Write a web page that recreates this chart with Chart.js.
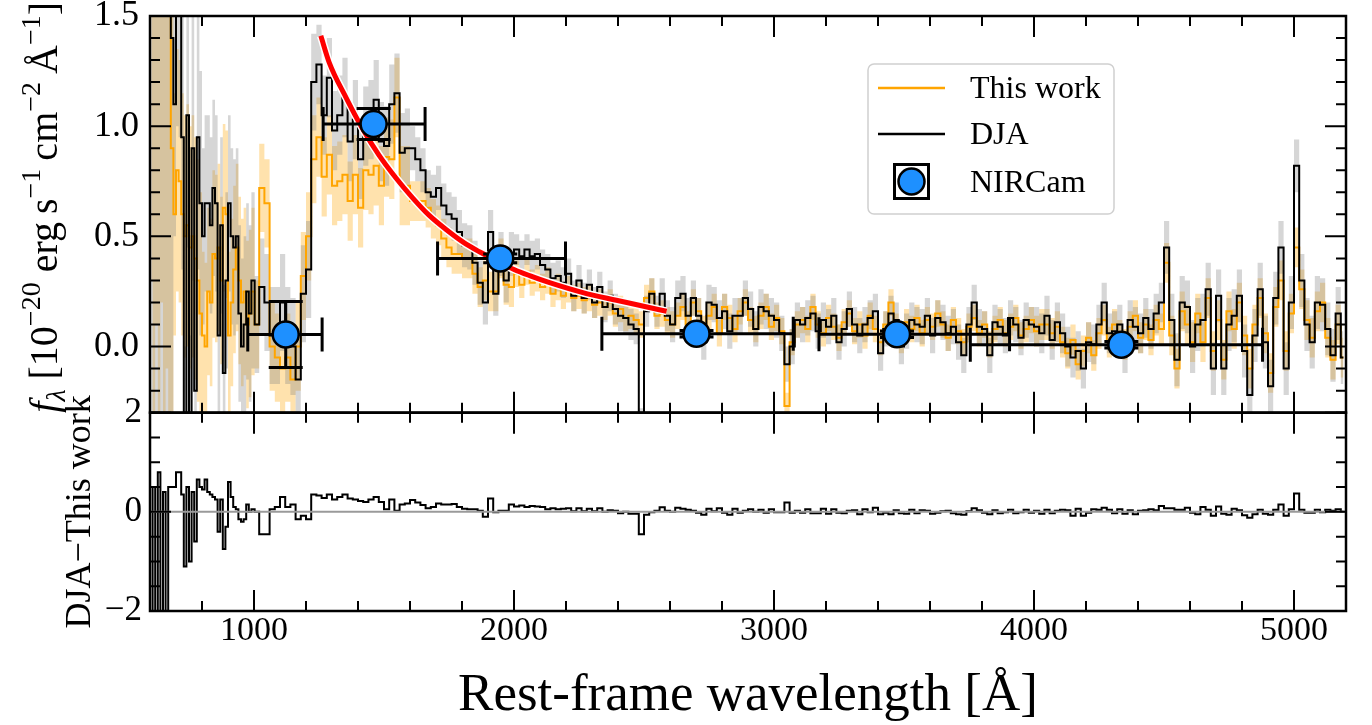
<!DOCTYPE html>
<html>
<head>
<meta charset="utf-8">
<script src="https://cdn.jsdelivr.net/npm/chart.js@4.4.1/dist/chart.umd.min.js"></script>
<style>
  html, body { margin: 0; padding: 0; background: #fff; }
</style>
</head>
<body>
<canvas id="spec" width="1372" height="725"></canvas>
<script>
// rest-frame bin centres [Angstrom]
var wave = [
  605, 615, 625, 635, 645, 655, 665, 675, 685, 695,
  705, 715, 725, 735, 745, 755, 765, 775, 785, 795,
  805, 815, 825, 835, 845, 855, 865, 875, 885, 895,
  905, 915, 925, 935, 945, 955, 965, 975, 985, 995,
  1010, 1030, 1050, 1070, 1090, 1110, 1130, 1150, 1170, 1190,
  1210, 1230, 1250, 1270, 1290, 1310, 1330, 1350, 1370, 1390,
  1410, 1430, 1450, 1470, 1490, 1510, 1530, 1550, 1570, 1590,
  1610, 1630, 1650, 1670, 1690, 1710, 1730, 1750, 1770, 1790,
  1810, 1830, 1850, 1870, 1890, 1910, 1930, 1950, 1970, 1990,
  2010, 2030, 2050, 2070, 2090, 2110, 2130, 2150, 2170, 2190,
  2210, 2230, 2250, 2270, 2290, 2310, 2330, 2350, 2370, 2390,
  2410, 2430, 2450, 2470, 2490, 2510, 2530, 2550, 2570, 2590,
  2610, 2630, 2650, 2670, 2690, 2710, 2730, 2750, 2770, 2790,
  2810, 2830, 2850, 2870, 2890, 2910, 2930, 2950, 2970, 2990,
  3010, 3030, 3050, 3070, 3090, 3110, 3130, 3150, 3170, 3190,
  3210, 3230, 3250, 3270, 3290, 3310, 3330, 3350, 3370, 3390,
  3410, 3430, 3450, 3470, 3490, 3510, 3530, 3550, 3570, 3590,
  3610, 3630, 3650, 3670, 3690, 3710, 3730, 3750, 3770, 3790,
  3810, 3830, 3850, 3870, 3890, 3910, 3930, 3950, 3970, 3990,
  4010, 4030, 4050, 4070, 4090, 4110, 4130, 4150, 4170, 4190,
  4210, 4230, 4250, 4270, 4290, 4310, 4330, 4350, 4370, 4390,
  4410, 4430, 4450, 4470, 4490, 4510, 4530, 4550, 4570, 4590,
  4610, 4630, 4650, 4670, 4690, 4710, 4730, 4750, 4770, 4790,
  4810, 4830, 4850, 4870, 4890, 4910, 4930, 4950, 4970, 4990,
  5010, 5030, 5050, 5070, 5090, 5110, 5130, 5150, 5170, 5190
];

// f_lambda, 1e-20 erg/s/cm2/A
var thisWork = [
  4.3, 1.9, 4.1, 2.2, 4.2, 1.8, 3.9, 1.6, 0.9, 0.6,
  0.8, 0.75, 0.6, 0.5, 0.55, 0.45, 0.5, 0.4, 0.3, 0.15,
  0.05, 0.0, 0.25, 0.2, 0.42, 0.4, 0.45, 0.3, 0.63, 0.6,
  0.05, 0.2, 0.35, 0.45, 0.3, 0.2, 0.25, 0.1, 0.15, 0.25,
  0.1, 0.72, 0.65, 0.0, -0.05, -0.1, -0.05, -0.15, 0.0, 0.32,
  0.5, 0.85, 0.95, 0.77, 0.87, 0.73, 0.75, 0.78, 0.66, 0.78,
  0.63, 0.8, 0.78, 0.82, 0.73, 0.86, 0.85, 1.13, 0.73, 0.73,
  0.66, 0.66, 0.66, 0.63, 0.58, 0.55, 0.49, 0.45, 0.42, 0.42,
  0.4, 0.4, 0.33, 0.27, 0.3, 0.25, 0.25, 0.4, 0.28, 0.27,
  0.33, 0.28, 0.34, 0.29, 0.31, 0.27, 0.3, 0.24, 0.27, 0.23,
  0.26, 0.22, 0.23, 0.21, 0.22, 0.19, 0.2, 0.18, 0.2, 0.15,
  0.17, 0.13, 0.14, 0.12, 0.1, 0.22, 0.25, 0.14, 0.15, 0.12,
  0.1, 0.14, 0.18, 0.1, 0.2, 0.16, 0.08, 0.14, 0.18, 0.06,
  0.18, 0.13, 0.08, 0.16, 0.2, 0.12, 0.08, 0.14, 0.18, 0.09,
  0.13, 0.07, -0.27, 0.02, 0.1, 0.12, 0.08, 0.18, 0.1, 0.06,
  0.13, 0.09, 0.04, 0.11, 0.15, 0.07, 0.1, 0.05, 0.14, 0.08,
  0.02, 0.1, 0.2, 0.09, 0.03, 0.11, 0.08, 0.13, 0.06, 0.12,
  0.09, 0.15, 0.1, 0.04, 0.12, 0.07, 0.02, 0.09, 0.13, 0.06,
  0.1, 0.01, 0.08, 0.12, 0.06, 0.09, 0.13, 0.05, 0.08, 0.12,
  0.07, 0.1, 0.1, 0.06, 0.09, 0.02, -0.03, 0.03, -0.08, -0.02,
  0.04, -0.04, 0.06, 0.12, 0.02, 0.1, 0.05, 0.01, 0.09, 0.14,
  0.04, 0.1, 0.03, 0.12, 0.08, 0.38, 0.05, -0.1, 0.16, 0.1,
  0.02, 0.15, 0.02, 0.22, -0.02, 0.12, -0.06, 0.16, 0.08, 0.2,
  0.05, -0.1, 0.1, 0.22, 0.06, -0.12, 0.18, 0.3, -0.02, 0.15,
  0.45, 0.26, 0.12, 0.04, 0.16, 0.2, 0.04, -0.06, 0.1, -0.05
];

var dja = [
  1.7, 2.4, 1.7, 3.0, 1.7, 2.2, 1.6, 2.1, 1.4, 1.1,
  1.6, 1.55, 0.95, -0.6, 1.05, -0.55, 0.9, -0.2, 0.95, 0.65,
  0.5, 0.65, 0.65, 0.55, 0.72, 0.65, 0.05, 0.55, -0.12, 0.3,
  0.65, 0.5, 0.45, 0.5, 0.15, 0.0, 0.1, 0.25, 0.15, 0.3,
  0.1, 0.27, 0.2, 0.05, 0.05, 0.2, 0.05, 0.0, -0.15, 0.24,
  0.35, 1.2, 1.28, 1.05, 1.22, 0.98, 1.05, 1.13, 0.93, 1.03,
  0.85, 1.0, 1.03, 1.12, 0.93, 0.91, 1.1, 1.15, 0.88, 0.9,
  0.9, 0.85, 0.8, 0.7, 0.68, 0.72, 0.64, 0.6, 0.58, 0.52,
  0.46, 0.45, 0.38, 0.29, 0.2, 0.52, 0.24, 0.42, 0.3, 0.42,
  0.44, 0.41, 0.44, 0.41, 0.42, 0.37, 0.35, 0.31, 0.32, 0.29,
  0.33, 0.23, 0.3, 0.22, 0.28, 0.2, 0.27, 0.18, 0.23, 0.17,
  0.14, 0.13, 0.1, 0.08, -0.35, 0.16, 0.24, 0.16, 0.24, 0.14,
  0.1, 0.22, 0.24, 0.14, 0.22, 0.14, 0.02, 0.2, 0.19, 0.13,
  0.16, 0.07, 0.14, 0.14, 0.22, 0.17, 0.08, 0.18, 0.16, 0.14,
  0.12, 0.06, -0.08, 0.0, 0.12, 0.1, 0.13, 0.15, 0.07, 0.12,
  0.09, 0.14, 0.02, 0.08, 0.17, 0.1, 0.05, 0.1, 0.13, 0.16,
  -0.03, 0.08, 0.15, 0.12, 0.0, 0.07, 0.12, 0.1, 0.09, 0.14,
  0.05, 0.13, 0.11, 0.06, 0.09, 0.02, -0.04, 0.1, 0.2, 0.09,
  0.08, -0.04, 0.11, 0.09, 0.05, 0.13, 0.1, 0.04, 0.12, 0.1,
  0.09, 0.06, 0.14, 0.03, 0.11, 0.06, 0.0, -0.05, -0.02, -0.1,
  0.02, 0.01, 0.1, 0.2, 0.06, 0.07, 0.1, -0.03, 0.12, 0.09,
  0.06, 0.13, 0.08, 0.15, 0.2, 0.45, 0.12, -0.06, 0.2, 0.18,
  0.0, 0.1, 0.12, 0.26, -0.1, 0.23, -0.1, 0.1, 0.14, 0.23,
  -0.02, -0.22, 0.05, 0.26, 0.02, -0.18, 0.22, 0.45, -0.1, 0.2,
  0.82, 0.3, 0.1, 0.02, 0.2, 0.19, 0.08, -0.04, 0.15, -0.05
];

// 1-sigma errors, per wavelength range
var errEdges = [600, 690, 800, 1000, 1240, 1600, 2000, 2600, 4000, 4500, 5200];
var thisWorkErr = [4.0, 0.55, 0.38, 0.2, 0.18, 0.09, 0.06, 0.06, 0.07, 0.09];
var djaErr = [3.5, 0.6, 0.4, 0.22, 0.18, 0.1, 0.07, 0.08, 0.09, 0.12];

// NIRCam photometry
var photWave = [1122, 1460, 1947, 2702, 3473, 4336];
var photFlux = [0.055, 1.01, 0.40, 0.058, 0.056, 0.008];
var photWaveLo = [976, 1266, 1706, 2338, 3173, 3755];
var photWaveHi = [1262, 1658, 2198, 3074, 3906, 4879];
var photFluxErr = [0.15, 0.07, 0.02, 0.015, 0.015, 0.015];

// UV slope fit (red curve)
var fitWave = [1257, 1289, 1354, 1417, 1480, 1546, 1610, 1674, 1740, 1803, 1867, 1931, 2000, 2060, 2137, 2265, 2394, 2490, 2587];
var fitFlux = [1.41, 1.29, 1.13, 0.99, 0.87, 0.765, 0.675, 0.595, 0.53, 0.475, 0.43, 0.39, 0.35, 0.322, 0.29, 0.245, 0.21, 0.185, 0.16];

var FLUX_MIN = -0.3, FLUX_MAX = 1.5;
var ORANGE = '#FFA500';

Chart.defaults.font.family = "'Liberation Serif', 'Times New Roman', serif";
Chart.defaults.color = '#000';

function errAt(list, w) {
  for (var k = 0; k < errEdges.length - 1; k++) {
    if (w < errEdges[k + 1]) return list[k];
  }
  return list[list.length - 1];
}
function pts(vals) {
  return wave.map(function (w, i) { return {x: w, y: vals[i]}; });
}
function band(vals, errs, sign) {
  return wave.map(function (w, i) {
    return {x: w, y: Math.max(vals[i] + sign * errAt(errs, w), FLUX_MIN)};
  });
}
var resid = wave.map(function (w, i) { return {x: w, y: dja[i] - thisWork[i]}; });

function drawErrorBars(chart) {
  var ctx = chart.ctx, xs = chart.scales.x, ys = chart.scales.y, cap = 17;
  ctx.save();
  ctx.strokeStyle = '#000';
  ctx.lineWidth = 3;
  photWave.forEach(function (w, i) {
    var px = xs.getPixelForValue(w), py = ys.getPixelForValue(photFlux[i]);
    var x0 = xs.getPixelForValue(photWaveLo[i]), x1 = xs.getPixelForValue(photWaveHi[i]);
    var y0 = ys.getPixelForValue(photFlux[i] - photFluxErr[i]);
    var y1 = ys.getPixelForValue(photFlux[i] + photFluxErr[i]);
    ctx.beginPath();
    ctx.moveTo(x0, py); ctx.lineTo(x1, py);
    ctx.moveTo(px, y0); ctx.lineTo(px, y1);
    ctx.moveTo(x0, py - cap); ctx.lineTo(x0, py + cap);
    ctx.moveTo(x1, py - cap); ctx.lineTo(x1, py + cap);
    ctx.moveTo(px - cap, y0); ctx.lineTo(px + cap, y0);
    ctx.moveTo(px - cap, y1); ctx.lineTo(px + cap, y1);
    ctx.stroke();
  });
  ctx.restore();
}

function drawFrames(chart) {
  var ctx = chart.ctx, area = chart.chartArea, xs = chart.scales.x;
  ctx.save();
  ctx.strokeStyle = '#000';
  ['y', 'y2'].forEach(function (id) {
    var ys = chart.scales[id];
    ctx.lineWidth = 2;
    ctx.beginPath();
    xs.ticks.forEach(function (t) {
      var px = xs.getPixelForValue(t.value), len = t.label ? 21 : 10;
      ctx.moveTo(px, ys.top); ctx.lineTo(px, ys.top + len);
      ctx.moveTo(px, ys.bottom); ctx.lineTo(px, ys.bottom - len);
    });
    ys.ticks.forEach(function (t) {
      var py = ys.getPixelForValue(t.value), len = t.label ? 21 : 10;
      ctx.moveTo(area.left, py); ctx.lineTo(area.left + len, py);
      ctx.moveTo(area.right, py); ctx.lineTo(area.right - len, py);
    });
    ctx.stroke();
    ctx.lineWidth = 2.5;
    ctx.strokeRect(area.left, ys.top, area.right - area.left, ys.bottom - ys.top);
  });
  ctx.restore();
}

// rotated label built from [text, size, italic, shift] pieces
function drawRotated(ctx, pieces, bx, cy) {
  var total = 0;
  pieces.forEach(function (p) {
    ctx.font = (p[2] ? 'italic ' : '') + p[1] + "px 'Liberation Serif'";
    p.w = ctx.measureText(p[0]).width;
    total += p.w;
  });
  ctx.save();
  ctx.translate(bx, cy);
  ctx.rotate(-Math.PI / 2);
  ctx.textBaseline = 'alphabetic';
  ctx.textAlign = 'left';
  var x = -total / 2;
  pieces.forEach(function (p) {
    ctx.font = (p[2] ? 'italic ' : '') + p[1] + "px 'Liberation Serif'";
    ctx.fillText(p[0], x, p[3]);
    x += p.w;
  });
  ctx.restore();
}

function drawTitles(chart) {
  var ctx = chart.ctx, area = chart.chartArea;
  var yt = chart.scales.y, yb = chart.scales.y2;
  ctx.save();
  ctx.fillStyle = '#000';
  ctx.font = "53px 'Liberation Serif'";
  ctx.textAlign = 'center';
  ctx.textBaseline = 'alphabetic';
  ctx.fillText('Rest-frame wavelength [\u00C5]', (area.left + area.right) / 2, 710);
  var M = 40, S = 28;
  drawRotated(ctx, [
    ['f', M, true, 0], ['\u03BB', S, true, 8], [' [', M, false, 0], ['10', M, false, 0],
    ['\u221220', S, false, -17], [' erg', M, false, 0], ['\u2009s', M, false, 0],
    ['\u22121', S, false, -17], ['\u2009cm', M, false, 0], ['\u22122', S, false, -17],
    ['\u2009\u00C5', M, false, 0], ['\u22121', S, false, -17], [']', M, false, 0]
  ], 57, (yt.top + yt.bottom) / 2 - 7);
  drawRotated(ctx, [['DJA\u2212This work', 36, false, 0]], 90, (yb.top + yb.bottom) / 2);
  ctx.restore();
}

function drawLegend(chart) {
  var ctx = chart.ctx, ds = chart.data.datasets;
  ctx.save();
  ctx.beginPath();
  ctx.roundRect(868, 64, 246, 150, 6);
  ctx.fillStyle = 'rgba(255,255,255,0.8)';
  ctx.fill();
  ctx.lineWidth = 1.5;
  ctx.strokeStyle = '#d0d0d0';
  ctx.stroke();
  ctx.font = "32px 'Liberation Serif'";
  ctx.fillStyle = '#000';
  ctx.textBaseline = 'middle';
  ctx.textAlign = 'left';
  var rows = [[4, 88], [5, 134]];
  rows.forEach(function (r) {
    ctx.strokeStyle = ds[r[0]].borderColor;
    ctx.lineWidth = 2.5;
    ctx.beginPath();
    ctx.moveTo(878, r[1]); ctx.lineTo(945, r[1]);
    ctx.stroke();
    ctx.fillText(ds[r[0]].label, 970, r[1] + 2);
  });
  var mx = 911.5, my = 181.5, c = 17;
  ctx.strokeStyle = '#000';
  ctx.lineWidth = 3;
  ctx.strokeRect(mx - c, my - c, 2 * c, 2 * c);
  ctx.beginPath();
  ctx.arc(mx, my, 13, 0, Math.PI * 2);
  ctx.fillStyle = ds[8].backgroundColor;
  ctx.fill();
  ctx.lineWidth = 2.5;
  ctx.stroke();
  ctx.fillStyle = '#000';
  ctx.fillText(ds[8].label, 970, my + 2);
  ctx.restore();
}

var panelPlugin = {
  id: 'panels',
  beforeDatasetDraw: function (chart, args) {
    var ctx = chart.ctx, area = chart.chartArea, ys = chart.scales[args.meta.yAxisID];
    ctx.save();
    ctx.beginPath();
    ctx.rect(area.left, ys.top, area.right - area.left, ys.bottom - ys.top);
    ctx.clip();
    if (chart.data.datasets[args.index].label === 'NIRCam') drawErrorBars(chart);
  },
  afterDatasetDraw: function (chart) {
    chart.ctx.restore();
  },
  afterDraw: function (chart) {
    drawFrames(chart);
    drawTitles(chart);
    drawLegend(chart);
  }
};

function noPad(s) {
  s.paddingTop = 0; s.paddingBottom = 0; s.paddingLeft = 0; s.paddingRight = 0;
}

var hidden = 'rgba(0,0,0,0)';
var config = {
  type: 'line',
  data: {
    datasets: [
      {label: 'twLo', data: band(thisWork, thisWorkErr, -1), yAxisID: 'y', stepped: 'middle',
       borderColor: hidden, borderWidth: 1, pointRadius: 0, fill: false, order: 20},
      {label: 'twHi', data: band(thisWork, thisWorkErr, 1), yAxisID: 'y', stepped: 'middle',
       borderColor: hidden, borderWidth: 1, pointRadius: 0, fill: '-1',
       backgroundColor: 'rgba(255,165,0,0.32)', order: 19},
      {label: 'djaLo', data: band(dja, djaErr, -1), yAxisID: 'y', stepped: 'middle',
       borderColor: hidden, borderWidth: 1, pointRadius: 0, fill: false, order: 18},
      {label: 'djaHi', data: band(dja, djaErr, 1), yAxisID: 'y', stepped: 'middle',
       borderColor: hidden, borderWidth: 1, pointRadius: 0, fill: '-1',
       backgroundColor: 'rgba(128,128,128,0.32)', order: 17},
      {label: 'This work', data: pts(thisWork), yAxisID: 'y', stepped: 'middle',
       borderColor: ORANGE, borderWidth: 2, pointRadius: 0, fill: false, order: 16},
      {label: 'DJA', data: pts(dja), yAxisID: 'y', stepped: 'middle',
       borderColor: '#000000', borderWidth: 2, pointRadius: 0, fill: false, order: 15},
      {label: 'fitEdge', data: fitWave.map(function (w, i) { return {x: w, y: fitFlux[i]}; }),
       yAxisID: 'y', borderColor: '#ffffff', borderWidth: 8, pointRadius: 0, fill: false,
       cubicInterpolationMode: 'monotone', borderCapStyle: 'butt', order: 6},
      {label: 'fit', data: fitWave.map(function (w, i) { return {x: w, y: fitFlux[i]}; }),
       yAxisID: 'y', borderColor: '#ff0000', borderWidth: 5, pointRadius: 0, fill: false,
       cubicInterpolationMode: 'monotone', order: 5},
      {label: 'NIRCam', data: photWave.map(function (w, i) { return {x: w, y: photFlux[i]}; }),
       yAxisID: 'y', showLine: false, pointRadius: 13, pointBorderWidth: 2.5,
       backgroundColor: '#1E90FF', borderColor: '#000000', pointBackgroundColor: '#1E90FF',
       pointBorderColor: '#000000', order: 1},
      {label: 'residual', data: resid, yAxisID: 'y2', stepped: 'middle',
       borderColor: '#000000', borderWidth: 2, pointRadius: 0, fill: false, order: 3},
      {label: 'zero', data: [{x: 600, y: 0}, {x: 5200, y: 0}], yAxisID: 'y2',
       borderColor: '#9a9a9a', borderWidth: 2, pointRadius: 0, fill: false, order: 2}
    ]
  },
  options: {
    responsive: false,
    animation: false,
    events: [],
    layout: {padding: {top: 16, right: 26, left: 0, bottom: 0}},
    plugins: {legend: {display: false}, tooltip: {enabled: false}},
    scales: {
      x: {
        type: 'linear', min: 600, max: 5200,
        grid: {display: false, drawTicks: false}, border: {display: false},
        ticks: {stepSize: 200, autoSkip: false, maxRotation: 0, padding: 0, font: {size: 34},
                callback: function (v) { return v % 1000 === 0 ? String(v) : ''; }},
        afterFit: function (s) { s.height = 114; noPad(s); }
      },
      y2: {
        type: 'linear', position: 'left', stack: 'panels', stackWeight: 1, min: -2, max: 2,
        grid: {display: false, drawTicks: false}, border: {display: false},
        ticks: {stepSize: 0.5, autoSkip: false, padding: 8, font: {size: 35},
                callback: function (v) {
                  if (v === 0) return '0';
                  if (v === 2) return '2';
                  if (v === -2) return '\u22122';
                  return '';
                }},
        afterFit: function (s) { s.width = 150; noPad(s); }
      },
      y: {
        type: 'linear', position: 'left', stack: 'panels', stackWeight: 2, min: FLUX_MIN, max: FLUX_MAX,
        grid: {display: false, drawTicks: false}, border: {display: false},
        ticks: {stepSize: 0.1, autoSkip: false, padding: 11, font: {size: 36},
                callback: function (v) {
                  var r = Math.round(v * 10);
                  return r % 5 === 0 ? (r / 10).toFixed(1) : '';
                }},
        afterFit: function (s) { s.width = 150; noPad(s); }
      }
    }
  },
  plugins: [panelPlugin]
};

var chart = new Chart(document.getElementById('spec'), config);
</script>
</body>
</html>
